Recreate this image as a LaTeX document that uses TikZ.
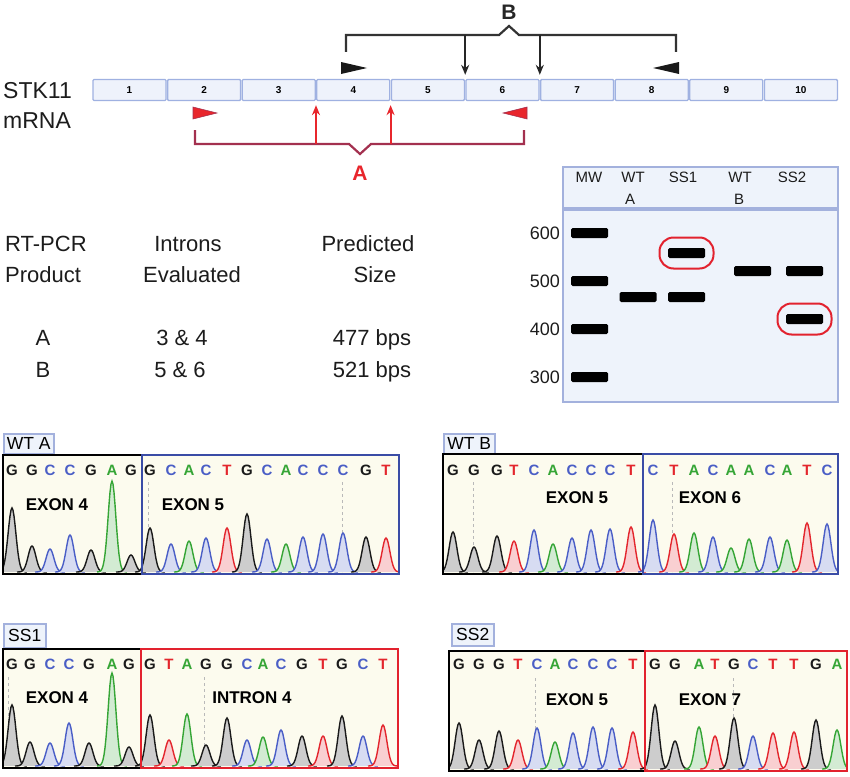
\documentclass[tikz,border=0pt]{standalone}
\usepackage{fontspec}
\setmainfont{Liberation Sans}
\usetikzlibrary{arrows.meta, positioning, calc}

\definecolor{exonfill}{HTML}{EEF2FB}
\definecolor{exonline}{HTML}{9FB1E1}
\definecolor{gelfill}{HTML}{EEF3FB}
\definecolor{gelline}{HTML}{A3B1DD}
\definecolor{chromabg}{HTML}{FCFBEE}
\definecolor{frameblue}{HTML}{3A4CA6}
\definecolor{framered}{HTML}{E2222E}
\definecolor{brackred}{HTML}{A3304F}
\definecolor{primerred}{HTML}{E8262C}
\definecolor{baseG}{HTML}{1A1A1A}
\definecolor{baseC}{HTML}{4A5EC6}
\definecolor{baseA}{HTML}{35A535}
\definecolor{baseT}{HTML}{E3262D}
\definecolor{inktext}{HTML}{1C1C1C}

\begin{document}
\begin{tikzpicture}[
    x=1pt, y=-1pt,
    >={Stealth[length=10pt, width=8pt]},
    % mRNA exon boxes
    exonbox/.style={rectangle, rounded corners=1pt, draw=exonline, line width=1.3pt, fill=exonfill, minimum width=73pt, minimum height=21pt, inner sep=0pt, font=\fontsize{10}{12}\selectfont\bfseries},
    bigtext/.style={font=\fontsize{23}{27}\selectfont, text=inktext, inner sep=0pt, text depth=0pt},
    tabletext/.style={font=\fontsize{22}{26}\selectfont, text=inktext, inner sep=0pt, text depth=0pt},
    % brackets and primer sites
    brackB/.style={draw=black!80, line width=2.2pt},
    brackA/.style={draw=brackred, line width=2.2pt},
    dnarrow/.style={->, line width=2pt, black!85, shorten >=4pt},
    uparrow/.style={->, line width=2pt, primerred, shorten >=4pt},
    % gel
    gelbox/.style={draw=gelline, line width=2pt, fill=gelfill},
    band/.style={rectangle, fill=black, rounded corners=1.5pt, minimum width=37pt, minimum height=10pt, inner sep=0pt},
    hilite/.style={rectangle, draw=framered, line width=2pt, rounded corners=14pt, minimum width=54pt, minimum height=31pt},
    lanelabel/.style={font=\fontsize{15}{17}\selectfont, text=inktext, inner sep=0pt, text depth=0pt},
    sizelabel/.style={font=\fontsize{18}{20}\selectfont, text=inktext, anchor=east, inner sep=0pt},
    % chromatograms
    tagbox/.style={draw=gelline, fill=gelfill, line width=1.5pt, anchor=north west, inner sep=0pt, font=\fontsize{17.5}{19}\selectfont},
    seq/.style={font=\fontsize{15}{17}\selectfont\bfseries, inner sep=0pt},
    regionlabel/.style={font=\fontsize{17}{19}\selectfont\bfseries, inner sep=0pt, text depth=0pt},
    cutline/.style={gray!55, dashed, line width=0.6pt}
]
    \useasboundingbox (0,0) rectangle (850,776);

    % === STK11 mRNA ===
    \node[bigtext, anchor=west] (gene) at (3,90) {STK11};
    \node[bigtext, anchor=west] (mrna) at (3,121) {mRNA};
    \foreach \i in {1,...,10}
        \node[exonbox] (e\i) at ({129.5+(\i-1)*74.6},90) {\i};

    % === PRODUCT B (above) ===
    \draw[brackB] (346,52) -- (346,35) -- (499,35) -- (509,26) -- (519,35) -- (676,35) -- (676,52);
    \node[font=\fontsize{21}{24}\selectfont\bfseries, text=black!85, inner sep=0pt] (labB) at (509,12) {B};
    \coordinate (topB) at (0,35);
    \coordinate (j56) at ($(e5.north east)!0.5!(e6.north west)$);
    \coordinate (j67) at ($(e6.north east)!0.5!(e7.north west)$);
    \draw[dnarrow] (j56 |- topB) -- (j56);
    \draw[dnarrow] (j67 |- topB) -- (j67);
    \fill[black!90] (341,62) -- (367,68) -- (341,74) -- cycle;
    \fill[black!90] (679,62) -- (653,68) -- (679,74) -- cycle;

    % === PRODUCT A (below) ===
    \filldraw[fill=primerred, draw=brackred, line width=0.6pt] (193,107) -- (217,113) -- (193,119) -- cycle;
    \filldraw[fill=primerred, draw=brackred, line width=0.6pt] (527,107) -- (503,113) -- (527,119) -- cycle;
    \draw[brackA] (195,130) -- (195,144) -- (349,144) -- (360,154) -- (371,144) -- (524,144) -- (524,130);
    \node[font=\fontsize{21}{24}\selectfont\bfseries, text=primerred, inner sep=0pt] (labA) at (360,173) {A};
    \coordinate (botA) at (0,144);
    \coordinate (j34) at ($(e3.south east)!0.5!(e4.south west)$);
    \coordinate (j45) at ($(e4.south east)!0.5!(e5.south west)$);
    \draw[uparrow] (j34 |- botA) -- (j34);
    \draw[uparrow] (j45 |- botA) -- (j45);

    % === TABLE ===
    \node[tabletext, anchor=west] (h1a) at (5,244) {RT-PCR};
    \node[tabletext, anchor=west] (h1b) at (5,275) {Product};
    \node[tabletext] (h2a) at (188,244) {Introns};
    \node[tabletext] (h2b) at (192,275) {Evaluated};
    \node[tabletext] (h3a) at (368,244) {Predicted};
    \node[tabletext] (h3b) at (375,275) {Size};
    \node[tabletext] (rA) at (43,338) {A};
    \node[tabletext] (rB) at (43,370) {B};
    \node[tabletext] (iA) at (182,338) {3 \& 4};
    \node[tabletext] (iB) at (180,370) {5 \& 6};
    \node[tabletext] (sA) at (372,338) {477 bps};
    \node[tabletext] (sB) at (372,370) {521 bps};

    % === GEL ===
    \draw[gelbox] (563,167) rectangle (838,208);
    \draw[gelbox] (563,210) rectangle (838,402);
    \node[lanelabel] (lmw) at (589,177) {MW};
    \node[lanelabel] (lwa) at (633,177) {WT};
    \node[lanelabel] (lwa2) at (630,199) {A};
    \node[lanelabel] (ls1) at (683,177) {SS1};
    \node[lanelabel] (lwb) at (740,177) {WT};
    \node[lanelabel] (lwb2) at (739,199) {B};
    \node[lanelabel] (ls2) at (792,177) {SS2};
    \foreach \s/\y in {600/233, 500/281, 400/329, 300/377} {
        \node[sizelabel] (sz\s) at (560,\y) {\s};
        \node[band] (mw\s) at (589.5,\y) {};
    }
    \node[band] (bwa) at (638,297) {};
    \node[band] (bs1a) at (686.5,253) {};
    \node[band] (bs1b) at (686.5,297) {};
    \node[band] (bwb) at (752.5,271) {};
    \node[band] (bs2a) at (804.5,271) {};
    \node[band] (bs2b) at (804.5,319) {};
    \node[hilite] (hl1) at (bs1a) {};
    \node[hilite] (hl2) at (bs2b) {};

    % === CHROMATOGRAM WT A ===
    \node[tagbox, minimum width=50pt, minimum height=20pt] (tagwa) at (3,433) {WT A};
    \fill[chromabg] (3,455) rectangle (399,574);
    \draw[cutline] (148,482) -- (148,572);
    \draw[cutline] (342,482) -- (342,572);
    \begin{scope}
        \clip (3,455) rectangle (399,574);
        \foreach \px/\nt/\hh [count=\i] in {12/G/64, 32/G/26, 50/C/23, 70/C/37, 91/G/22, 112/A/91, 131/G/17, 150/G/44, 171/C/28, 189/A/31, 206/C/34, 227/T/44, 247/G/58, 267/C/33, 286/A/28, 303/C/35, 323/C/38, 343/C/39, 366/G/35, 386/T/34} {
            \fill[fill=base\nt!22] plot[domain=\px-15:\px+15, samples=31] (\x,{572-\hh*exp(-(\x-\px)*(\x-\px)/30)}) -- cycle;
            \draw[draw=base\nt, line width=1.4pt] plot[domain=\px-15:\px+15, samples=31] (\x,{572-\hh*exp(-(\x-\px)*(\x-\px)/30)});
            \node[seq, text=base\nt] (wa\i) at (\px,470) {\nt};
        }
    \end{scope}
    \draw[black, line width=2.4pt] (3,455) rectangle (142,574);
    \draw[frameblue, line width=2.4pt] (142,455) rectangle (399,574);
    \node[regionlabel] (xwa1) at (57,505) {EXON 4};
    \node[regionlabel] (xwa2) at (193,505) {EXON 5};

    % === CHROMATOGRAM WT B ===
    \node[tagbox, minimum width=51pt, minimum height=20pt] (tagwb) at (443,433) {WT B};
    \fill[chromabg] (443,454) rectangle (838,574);
    \draw[cutline] (473,482) -- (473,572);
    \draw[cutline] (672,482) -- (672,572);
    \begin{scope}
        \clip (443,454) rectangle (838,574);
        \foreach \px/\nt/\hh [count=\i] in {453/G/40, 474/G/25, 497/G/36, 514/T/31, 534/C/42, 553/A/28, 572/C/34, 591/C/42, 610/C/43, 631/T/45, 653/C/52, 674/T/38, 694/A/39, 713/C/35, 731/A/24, 749/A/33, 770/C/35, 787/A/32, 807/T/49, 827/C/48} {
            \fill[fill=base\nt!22] plot[domain=\px-15:\px+15, samples=31] (\x,{572-\hh*exp(-(\x-\px)*(\x-\px)/30)}) -- cycle;
            \draw[draw=base\nt, line width=1.4pt] plot[domain=\px-15:\px+15, samples=31] (\x,{572-\hh*exp(-(\x-\px)*(\x-\px)/30)});
            \node[seq, text=base\nt] (wb\i) at (\px,470) {\nt};
        }
    \end{scope}
    \draw[black, line width=2.4pt] (443,454) rectangle (643,574);
    \draw[frameblue, line width=2.4pt] (643,454) rectangle (838,574);
    \node[regionlabel] (xwb1) at (577,498) {EXON 5};
    \node[regionlabel] (xwb2) at (710,498) {EXON 6};

    % === CHROMATOGRAM SS1 ===
    \node[tagbox, minimum width=42pt, minimum height=24pt] (tags1) at (3,623) {SS1};
    \fill[chromabg] (3,649) rectangle (398,768);
    \draw[cutline] (8,677) -- (8,766);
    \draw[cutline] (204,677) -- (204,766);
    \begin{scope}
        \clip (3,649) rectangle (398,768);
        \foreach \px/\nt/\hh [count=\i] in {12/G/61, 30/G/24, 50/C/23, 69/C/43, 89/G/23, 112/A/93, 129/G/19, 150/G/51, 169/T/26, 187/A/52, 206/G/21, 227/G/48, 247/C/26, 263/A/29, 281/C/36, 302/G/30, 323/T/30, 342/G/50, 363/C/30, 383/T/41} {
            \fill[fill=base\nt!22] plot[domain=\px-15:\px+15, samples=31] (\x,{766-\hh*exp(-(\x-\px)*(\x-\px)/30)}) -- cycle;
            \draw[draw=base\nt, line width=1.4pt] plot[domain=\px-15:\px+15, samples=31] (\x,{766-\hh*exp(-(\x-\px)*(\x-\px)/30)});
            \node[seq, text=base\nt] (sa\i) at (\px,664) {\nt};
        }
    \end{scope}
    \draw[black, line width=2.4pt] (3,649) rectangle (141,768);
    \draw[framered, line width=2.4pt] (141,649) rectangle (398,768);
    \node[regionlabel] (xsa1) at (57,698) {EXON 4};
    \node[regionlabel] (xsa2) at (252,698) {INTRON 4};

    % === CHROMATOGRAM SS2 ===
    \node[tagbox, minimum width=42pt, minimum height=22pt] (tags2) at (451,623) {SS2};
    \fill[chromabg] (449,651) rectangle (847,771);
    \draw[cutline] (535,678) -- (535,769);
    \draw[cutline] (733,678) -- (733,769);
    \begin{scope}
        \clip (449,651) rectangle (847,771);
        \foreach \px/\nt/\hh [count=\i] in {459/G/46, 479/G/29, 499/G/38, 518/T/29, 537/C/41, 555/A/27, 573/C/36, 593/C/42, 612/C/41, 633/T/37, 655/G/64, 675/G/28, 699/A/42, 715/T/33, 734/G/51, 753/C/33, 773/T/36, 794/T/37, 816/G/49, 837/A/39} {
            \fill[fill=base\nt!22] plot[domain=\px-15:\px+15, samples=31] (\x,{769-\hh*exp(-(\x-\px)*(\x-\px)/30)}) -- cycle;
            \draw[draw=base\nt, line width=1.4pt] plot[domain=\px-15:\px+15, samples=31] (\x,{769-\hh*exp(-(\x-\px)*(\x-\px)/30)});
            \node[seq, text=base\nt] (sb\i) at (\px,664) {\nt};
        }
    \end{scope}
    \draw[black, line width=2.4pt] (449,651) rectangle (645,771);
    \draw[framered, line width=2.4pt] (645,651) rectangle (847,771);
    \node[regionlabel] (xsb1) at (577,700) {EXON 5};
    \node[regionlabel] (xsb2) at (710,700) {EXON 7};

\end{tikzpicture}
\end{document}
